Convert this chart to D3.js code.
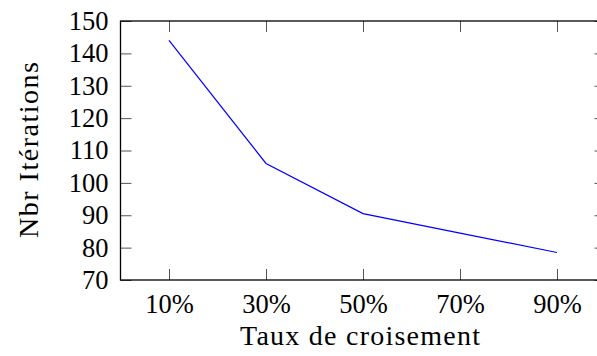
<!DOCTYPE html>
<html>
<head>
<meta charset="utf-8">
<script src="https://cdn.jsdelivr.net/npm/d3@7"></script>
<style>
  html, body { margin: 0; padding: 0; background: #fff; }
  svg { display: block; }
  text { font-family: "Liberation Serif", "Times New Roman", serif; fill: #000; }
</style>
</head>
<body>
<svg id="chart" width="597" height="356"></svg>
<script>
// Data
const categories = [10, 30, 50, 70, 90];
const iterations = [144, 106, 90.5, 84.5, 78.5];
const xTickLabels = ["10%", "30%", "50%", "70%", "90%"];
const yTicks = [70, 80, 90, 100, 110, 120, 130, 140, 150];
const xTitle = "Taux de croisement";
const yTitle = "Nbr Itérations";

const svg = d3.select("#chart");
const mLeft = 120.5, mRight = 605.5, mTop = 21, mBottom = 280;

const x = d3.scaleLinear().domain([0, 100]).range([mLeft, mRight]);
const y = d3.scaleLinear().domain([70, 150]).range([mBottom, mTop]);

const tickLen = 11;
const fontSize = 26.5;
const titleSize = 28;

// Left axis
const gl = svg.append("g").attr("transform", `translate(${mLeft},0)`)
  .call(d3.axisLeft(y).tickValues(yTicks).tickFormat(d3.format("d"))
    .tickSizeInner(-tickLen).tickSizeOuter(0).tickPadding(12));
// Right axis ticks (no labels)
const gr = svg.append("g").attr("transform", `translate(${mRight},0)`)
  .call(d3.axisRight(y).tickValues(yTicks).tickFormat("")
    .tickSizeInner(-tickLen).tickSizeOuter(0));
// Bottom axis
const gb = svg.append("g").attr("transform", `translate(0,${mBottom})`)
  .call(d3.axisBottom(x).tickValues(categories).tickFormat((d, i) => xTickLabels[i])
    .tickSizeInner(-tickLen).tickSizeOuter(0).tickPadding(14));
// Top axis ticks
const gt = svg.append("g").attr("transform", `translate(0,${mTop})`)
  .call(d3.axisTop(x).tickValues(categories).tickFormat("")
    .tickSizeInner(-tickLen).tickSizeOuter(0));

[gl, gr, gb, gt].forEach(g => {
  g.select(".domain").remove();
  g.selectAll(".tick line").attr("stroke", "#555").attr("stroke-width", 1);
  g.selectAll(".tick text").attr("font-family", "Liberation Serif, serif")
    .attr("font-size", fontSize).attr("fill", "#000");
});

// Data line
const line = d3.line().x((d, i) => x(categories[i])).y(d => y(d));
svg.append("path")
  .datum(iterations)
  .attr("d", line)
  .attr("fill", "none")
  .attr("stroke", "#0000ff")
  .attr("stroke-width", 1.2);

// Box
svg.append("rect")
  .attr("x", mLeft).attr("y", mTop)
  .attr("width", mRight - mLeft).attr("height", mBottom - mTop)
  .attr("fill", "none").attr("stroke", "#000").attr("stroke-width", 1.3);

// Titles
svg.append("text")
  .attr("x", 360).attr("y", 345)
  .attr("text-anchor", "middle")
  .attr("font-size", titleSize)
  .attr("textLength", 240).attr("lengthAdjust", "spacing")
  .text(xTitle);

svg.append("text")
  .attr("transform", `translate(38,150) rotate(-90)`)
  .attr("text-anchor", "middle")
  .attr("font-size", titleSize)
  .attr("textLength", 176).attr("lengthAdjust", "spacing")
  .text(yTitle);
</script>
</body>
</html>
